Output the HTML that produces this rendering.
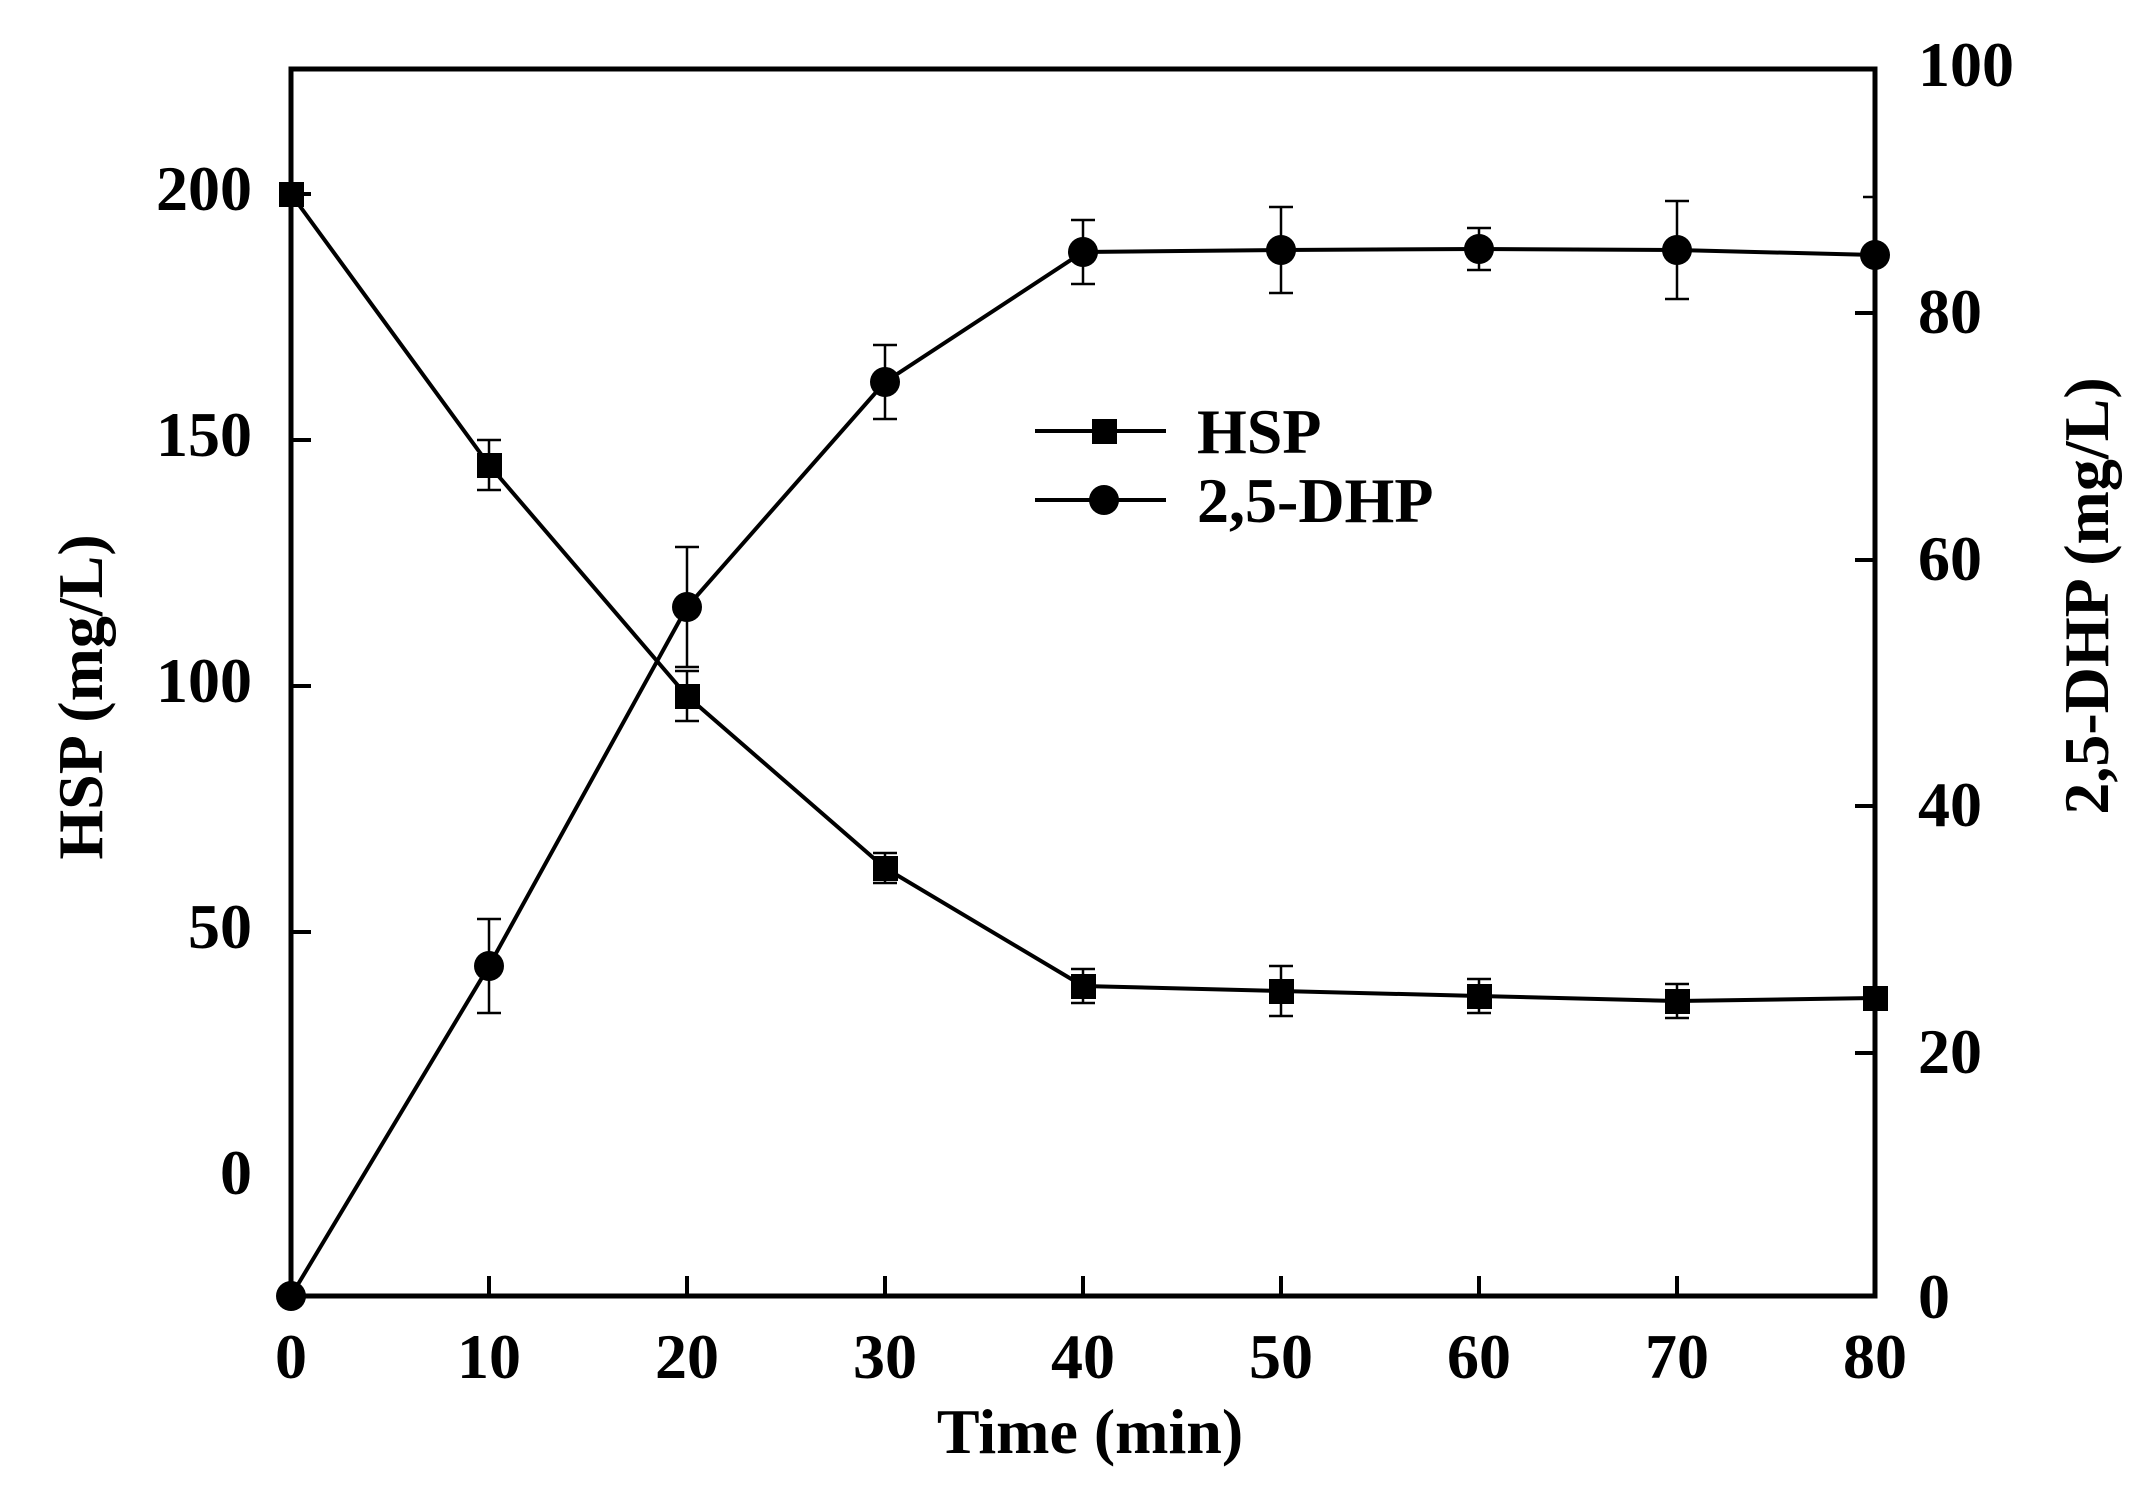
<!DOCTYPE html>
<html><head><meta charset="utf-8"><style>html,body{margin:0;padding:0;background:#fff}svg{display:block}</style></head>
<body>
<svg width="2152" height="1497" viewBox="0 0 2152 1497" xmlns="http://www.w3.org/2000/svg" font-family="'Liberation Serif',serif" font-weight="bold">
<rect width="2152" height="1497" fill="#fff"/>
<g stroke="#000" stroke-width="4" fill="none">
<path d="M291 194h20M291 440h20M291 686h20M291 932h20"/>
<path d="M489 1296v-20M687 1296v-20M885 1296v-20M1083 1296v-20M1281 1296v-20M1479 1296v-20M1677 1296v-20"/>
<path d="M1875 1053h-20M1875 806h-20M1875 560h-20M1875 313h-20"/>
<polyline points="291,194 489,465 687,696 885,868 1083,986 1281,991 1479,996 1677,1001 1875,998"/>
<polyline points="291,1296 489,966 687,607 885,382 1083,252 1281,250 1479,249 1677,250 1875,255"/>
<path d="M1035 431h131M1035 500h131"/>
</g>
<g stroke="#000" stroke-width="2.5" fill="none">
<path d="M489 440v50M477 440h24M477 490h24"/>
<path d="M687 671v50M675 671h24M675 721h24"/>
<path d="M885 853v30M873 853h24M873 883h24"/>
<path d="M1083 969v34M1071 969h24M1071 1003h24"/>
<path d="M1281 966v50M1269 966h24M1269 1016h24"/>
<path d="M1479 979v34M1467 979h24M1467 1013h24"/>
<path d="M1677 984v34M1665 984h24M1665 1018h24"/>
<path d="M489 919v94M477 919h24M477 1013h24"/>
<path d="M687 547v120M675 547h24M675 667h24"/>
<path d="M885 345v74M873 345h24M873 419h24"/>
<path d="M1083 220v64M1071 220h24M1071 284h24"/>
<path d="M1281 207v86M1269 207h24M1269 293h24"/>
<path d="M1479 228v42M1467 228h24M1467 270h24"/>
<path d="M1677 201v98M1665 201h24M1665 299h24"/>
<path d="M1875 197v116M1863 197h12"/>
</g>
<g fill="#000">
<rect x="279" y="182" width="25" height="25"/>
<rect x="477" y="453" width="25" height="25"/>
<rect x="675" y="684" width="25" height="25"/>
<rect x="873" y="856" width="25" height="25"/>
<rect x="1071" y="974" width="25" height="25"/>
<rect x="1269" y="979" width="25" height="25"/>
<rect x="1467" y="984" width="25" height="25"/>
<rect x="1665" y="989" width="25" height="25"/>
<rect x="1863" y="986" width="25" height="25"/>
<circle cx="291" cy="1296" r="15"/>
<circle cx="489" cy="966" r="15"/>
<circle cx="687" cy="607" r="15"/>
<circle cx="885" cy="382" r="15"/>
<circle cx="1083" cy="252" r="15"/>
<circle cx="1281" cy="250" r="15"/>
<circle cx="1479" cy="249" r="15"/>
<circle cx="1677" cy="250" r="15"/>
<circle cx="1875" cy="255" r="15"/>
<rect x="1092" y="419" width="25" height="25"/>
<circle cx="1104" cy="500" r="15"/>
</g>
<rect x="291" y="69" width="1584" height="1227" fill="none" stroke="#000" stroke-width="5"/>
<g font-size="64" fill="#000">
<g text-anchor="end">
<text x="252" y="210">200</text><text x="252" y="456">150</text><text x="252" y="702">100</text><text x="252" y="948">50</text><text x="252" y="1194">0</text>
</g>
<g text-anchor="start">
<text x="1918" y="86">100</text><text x="1918" y="333">80</text><text x="1918" y="580">60</text><text x="1918" y="826">40</text><text x="1918" y="1073">20</text><text x="1918" y="1318">0</text>
</g>
<g text-anchor="middle">
<text x="291" y="1378">0</text><text x="489" y="1378">10</text><text x="687" y="1378">20</text><text x="885" y="1378">30</text><text x="1083" y="1378">40</text><text x="1281" y="1378">50</text><text x="1479" y="1378">60</text><text x="1677" y="1378">70</text><text x="1875" y="1378">80</text>
<text x="1090" y="1453">Time (min)</text>
<text transform="translate(102,697) rotate(-90)">HSP (mg/L)</text>
<text transform="translate(2108,596) rotate(-90)">2,5-DHP (mg/L)</text>
</g>
<text x="1197" y="453">HSP</text>
<text x="1197" y="522">2,5-DHP</text>
</g>
</svg>
</body></html>
